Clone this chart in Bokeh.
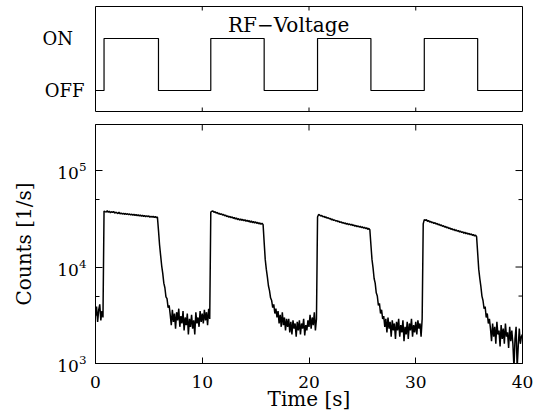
import numpy as np
from bokeh.plotting import figure
from bokeh.layouts import column
from bokeh.models import Range1d, FixedTicker, Label
from bokeh.embed import file_html
from bokeh.resources import INLINE

# ---------------- data ----------------
sample_interval = 0.1  # s
counts_k = [  # counts in units of 1000 /s, one row per second
    3.1, 3.9, 2.7, 3.6, 4.1, 2.8, 3.5, 3.0, 38.0, 37.5,
    37.2, 38.3, 36.9, 37.8, 36.5, 37.4, 36.8, 37.6, 36.2, 37.0,
    36.4, 35.8, 36.9, 35.6, 36.3, 35.4, 36.1, 35.2, 35.9, 35.0,
    35.7, 34.9, 35.5, 34.6, 35.3, 34.4, 35.1, 34.3, 34.9, 34.1,
    34.7, 33.9, 34.6, 33.7, 34.4, 33.5, 34.2, 33.2, 34.0, 33.3,
    33.8, 32.9, 33.6, 32.8, 33.5, 32.6, 33.3, 32.5, 33.0, 24.0,
    17.0, 13.2, 10.3, 8.6, 6.8, 6.1, 4.9, 4.7, 3.8, 4.0,
    3.2, 2.5, 3.6, 2.7, 3.3, 2.3, 3.4, 2.8, 3.7, 2.4,
    3.1, 2.6, 3.5, 2.2, 3.0, 2.5, 3.3, 2.0, 2.9, 2.4,
    3.2, 2.3, 2.8, 2.0, 3.4, 2.6, 3.0, 2.4, 3.5, 2.7,
    3.3, 2.6, 3.6, 2.8, 3.4, 2.5, 3.7, 2.9, 37.0, 37.8,
    38.0, 36.9, 37.4, 36.2, 36.8, 35.6, 36.0, 35.1, 35.6, 34.5,
    35.0, 33.9, 34.5, 33.3, 33.9, 32.8, 33.5, 32.4, 33.1, 32.0,
    32.6, 31.5, 32.2, 31.0, 31.8, 30.6, 31.5, 30.4, 31.2, 30.1,
    30.9, 29.8, 30.6, 29.5, 30.3, 29.1, 30.0, 28.8, 29.7, 28.6,
    29.4, 28.3, 29.0, 28.0, 28.7, 27.7, 28.4, 27.5, 18.0, 12.0,
    9.5, 7.9, 6.4, 5.7, 4.8, 4.5, 3.8, 4.1, 3.3, 3.7,
    3.0, 3.5, 2.6, 3.2, 2.4, 3.4, 2.5, 3.0, 2.2, 2.9,
    2.4, 2.9, 2.1, 2.7, 2.0, 2.8, 2.3, 2.6, 1.9, 2.7,
    2.2, 2.8, 2.0, 2.6, 2.3, 2.9, 1.95, 2.5, 2.2, 2.8,
    2.4, 3.2, 2.3, 3.0, 2.5, 3.4, 2.2, 2.9, 33.0, 35.0,
    34.6, 33.8, 34.2, 33.1, 33.5, 32.6, 33.0, 32.1, 32.4, 31.6,
    31.9, 30.9, 31.3, 30.4, 30.8, 29.9, 30.3, 29.5, 29.9, 29.0,
    29.4, 28.6, 29.0, 28.2, 28.6, 27.8, 28.3, 27.5, 28.0, 27.2,
    27.7, 26.9, 27.3, 26.5, 27.0, 26.2, 26.7, 25.9, 26.4, 25.6,
    26.1, 25.3, 25.8, 25.0, 25.5, 24.6, 25.1, 24.3, 17.0, 12.0,
    9.8, 7.6, 6.8, 5.4, 5.0, 4.0, 4.2, 3.3, 3.6, 2.9,
    3.1, 2.4, 2.9, 2.1, 3.0, 2.3, 2.7, 1.9, 2.8, 2.2,
    2.6, 1.8, 2.7, 2.2, 2.9, 1.9, 2.5, 2.1, 2.8, 1.7,
    2.4, 2.0, 2.7, 1.8, 2.6, 2.2, 2.9, 1.9, 2.5, 2.1,
    2.7, 2.0, 2.8, 2.3, 2.6, 1.9, 2.9, 28.0, 31.0, 30.5,
    30.9, 29.8, 30.3, 29.3, 29.7, 28.8, 29.2, 28.3, 28.8, 27.9,
    28.3, 27.4, 27.8, 26.9, 27.3, 26.4, 26.8, 25.9, 26.3, 25.5,
    25.9, 25.0, 25.4, 24.6, 25.0, 24.2, 24.6, 23.8, 24.2, 23.5,
    23.9, 23.1, 23.5, 22.8, 23.2, 22.4, 22.9, 22.1, 22.6, 21.9,
    22.3, 21.6, 22.0, 21.3, 21.7, 21.0, 21.4, 20.6, 14.0, 9.5,
    7.6, 6.3, 5.0, 4.5, 3.7, 3.9, 3.0, 3.3, 2.6, 2.9,
    2.3, 1.7, 2.6, 1.9, 2.4, 1.6, 2.7, 2.0, 2.2, 1.5,
    2.5, 1.8, 2.3, 1.6, 2.6, 1.9, 2.1, 1.45, 2.4, 1.7,
    2.2, 1.6, 0.9, 1.8, 2.4, 0.9, 1.5, 2.3, 1.6, 1.9,
    2.0,
]
rf_on_times = [0.8, 10.8, 20.8, 30.8]
rf_off_times = [5.9, 15.8, 25.8, 35.8]
rf_off_level, rf_on_level = 0, 1
rf_level_labels = ["OFF", "ON\u00a0\u00a0"]  # padded so both start at the same x
x_ticks = [0, 10, 20, 30, 40]
x_inner_ticks = [10, 20, 30]
y_ticks = [1e3, 1e4, 1e5]
y_minor_ticks = [5e3, 5e4]

time_s = [round(i * sample_interval, 1) for i in range(len(counts_k))]
counts = np.array(counts_k) * 1000.0

# step trace of the RF voltage
step_x, step_y = [0.0], [rf_off_level]
for a, b in zip(rf_on_times, rf_off_times):
    step_x += [a, a, b, b]
    step_y += [rf_off_level, rf_on_level, rf_on_level, rf_off_level]
step_x.append(40.0)
step_y.append(rf_off_level)

FONT = "DejaVu Serif"
X0, X1 = 0, 40
TY0, TY1 = -0.404, 1.615
BY0, BY1 = 1e3, 3e5

# ---------------- top panel ----------------
top = figure(frame_width=427, frame_height=105,
             x_range=Range1d(X0, X1), y_range=Range1d(TY0, TY1),
             output_backend="svg", toolbar_location=None,
             min_border_left=95, min_border_right=15,
             min_border_top=6, min_border_bottom=7)
top.line(step_x, step_y, line_color="black", line_width=1.2)
top.grid.visible = False
top.xaxis.visible = False
top.outline_line_color = "black"
top.outline_line_alpha = 1

tya = top.yaxis[0]
tya.ticker = FixedTicker(ticks=[rf_off_level, rf_on_level])
tya.major_label_overrides = {rf_off_level: rf_level_labels[0],
                             rf_on_level: rf_level_labels[1]}
tya.major_tick_in = 0
tya.major_tick_out = 0
tya.minor_tick_in = 0
tya.minor_tick_out = 0
tya.axis_line_color = None
tya.major_label_text_font = FONT
tya.major_label_text_font_size = "18px"
tya.major_label_text_color = "black"
tya.major_label_standoff = 11

# inward tick marks on top and bottom edges (clipped half-dashes)
for edge in (TY0, TY1):
    top.scatter(x_inner_ticks, [edge] * len(x_inner_ticks), marker="dash",
                size=8, angle=np.pi / 2, line_color="black", line_width=1)

top.add_layout(Label(x=18.1, y=1.25, text="RF\u2212Voltage", text_align="center",
                     text_baseline="alphabetic", text_font=FONT,
                     text_font_size="20px", text_color="black"))

# ---------------- bottom panel ----------------
bot = figure(frame_width=427, frame_height=239,
             x_range=Range1d(X0, X1), y_range=Range1d(BY0, BY1),
             y_axis_type="log",
             output_backend="svg", toolbar_location=None,
             min_border_left=95, min_border_right=15,
             min_border_top=6, min_border_bottom=44)
bot.line(time_s, counts, line_color="black", line_width=1.5)
bot.grid.visible = False
bot.outline_line_color = "black"
bot.outline_line_alpha = 1

xa = bot.xaxis[0]
xa.ticker = FixedTicker(ticks=x_ticks)
xa.major_tick_in = 6
xa.major_tick_out = 0
xa.minor_tick_in = 0
xa.minor_tick_out = 0
xa.major_label_text_font = FONT
xa.major_label_text_font_size = "17px"
xa.major_label_text_color = "black"
xa.major_label_standoff = 12
xa.axis_label = "Time [s]"
xa.axis_label_text_font = FONT
xa.axis_label_text_font_size = "20px"
xa.axis_label_text_font_style = "normal"
xa.axis_label_text_color = "black"
xa.axis_label_standoff = -4
xa.axis_line_color = "black"
xa.major_tick_line_color = "black"

ya = bot.yaxis[0]
ya.ticker = FixedTicker(ticks=y_ticks, minor_ticks=y_minor_ticks)
ya.major_tick_in = 7
ya.major_tick_out = 0
ya.minor_tick_in = 4
ya.minor_tick_out = 0
ya.major_label_text_font = FONT
ya.major_label_text_font_size = "17px"
ya.major_label_text_color = "black"
ya.major_label_standoff = 9
ya.axis_label = "Counts [1/s]"
ya.axis_label_text_font = FONT
ya.axis_label_text_font_size = "20px"
ya.axis_label_text_font_style = "normal"
ya.axis_label_text_color = "black"
ya.axis_label_standoff = 18
ya.axis_line_color = "black"
ya.major_tick_line_color = "black"
ya.minor_tick_line_color = "black"

# inward ticks on the top edge and right edge (clipped half-dashes)
bot.scatter(x_inner_ticks, [BY1] * len(x_inner_ticks), marker="dash", size=12,
            angle=np.pi / 2, line_color="black", line_width=1)
bot.scatter([X1] * len(y_ticks), y_ticks, marker="dash", size=14,
            line_color="black", line_width=1)
bot.scatter([X1] * len(y_minor_ticks), y_minor_ticks, marker="dash", size=8,
            line_color="black", line_width=1)

layout = column(top, bot, spacing=0)
open("out.html", "w").write(file_html(layout, INLINE))
